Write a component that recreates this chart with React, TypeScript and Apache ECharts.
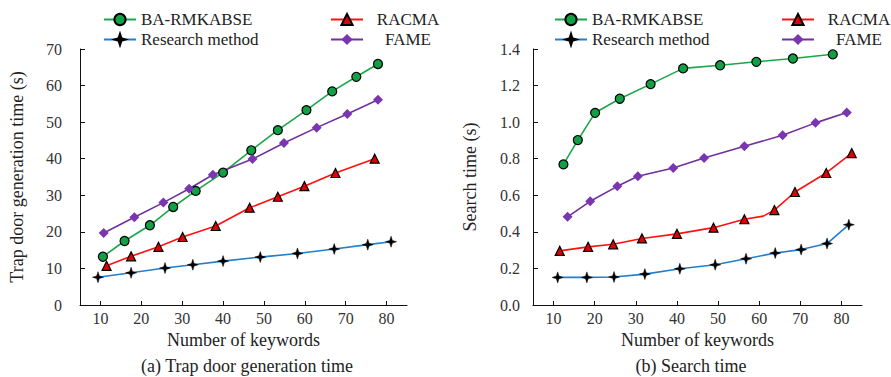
import React, { useEffect, useRef } from "react";
import * as echarts from "echarts";

// ---- data ----
const xTicks = [10, 20, 30, 40, 50, 60, 70, 80];

// (a) Trap door generation time
const greenLX = [10.6, 15.9, 22.1, 27.8, 33.3, 40.0, 46.9, 53.4, 60.4, 66.7, 72.6, 77.9];
const greenLY = [13.2, 17.5, 21.8, 26.8, 31.2, 36.2, 42.3, 47.8, 53.3, 58.4, 62.4, 65.9];
const redLX = [11.5, 17.5, 24.2, 30.1, 38.2, 46.5, 53.4, 59.9, 67.5, 77.1];
const redLY = [10.7, 13.3, 15.9, 18.6, 21.6, 26.6, 29.6, 32.5, 36.1, 40.0];
const blueLX = [9.4, 17.5, 25.8, 32.6, 40.0, 49.1, 58.2, 67.2, 75.4, 81.1];
const blueLY = [7.6, 8.8, 10.1, 11.0, 12.0, 13.1, 14.1, 15.3, 16.5, 17.3];
const purpleLX = [10.8, 18.3, 25.4, 31.7, 37.5, 47.2, 54.9, 62.9, 70.4, 77.9];
const purpleLY = [19.7, 24.0, 28.0, 31.8, 35.6, 39.9, 44.3, 48.5, 52.2, 56.1];

// (b) Search time
const greenRX = [12.4, 15.9, 20.1, 26.1, 33.6, 41.5, 50.5, 59.3, 68.2, 77.9];
const greenRY = [0.769, 0.902, 1.051, 1.128, 1.208, 1.294, 1.311, 1.33, 1.348, 1.371];
const purpleRX = [13.4, 18.9, 25.5, 30.5, 39.1, 46.6, 56.4, 65.7, 73.7, 81.3];
const purpleRY = [0.482, 0.567, 0.649, 0.704, 0.749, 0.804, 0.868, 0.928, 0.996, 1.053];
const redRX = [11.5, 18.4, 24.5, 31.5, 40.0, 48.9, 56.4, 61.0, 63.7, 68.7, 76.3, 82.5];
const redRY = [0.296, 0.318, 0.332, 0.364, 0.389, 0.423, 0.469, 0.486, 0.519, 0.618, 0.722, 0.831];
const redRUnmarked = [61.0];
const blueRX = [11.0, 18.1, 24.7, 32.2, 40.7, 49.3, 56.8, 63.9, 70.2, 76.5, 81.8];
const blueRY = [0.151, 0.151, 0.153, 0.169, 0.198, 0.22, 0.253, 0.284, 0.303, 0.336, 0.439];

const NAMES = { green: "BA-RMKABSE", red: "RACMA", blue: "Research method", purple: "FAME" };

const FONT = "Liberation Serif";
const STAR = "path://M0,-10 L2.4,-2.4 L10,0 L2.4,2.4 L0,10 L-2.4,2.4 L-10,0 L-2.4,-2.4 Z";

const STYLES: Record<string, any> = {
  green: { color: "#1aa64a", symbol: "circle", symbolSize: 9, itemStyle: { color: "#12a046", borderColor: "#000", borderWidth: 1.2 } },
  red: { color: "#ff1010", symbol: "triangle", symbolSize: 9, itemStyle: { color: "#e00000", borderColor: "#000", borderWidth: 1.2 } },
  blue: { color: "#1f7fd0", symbol: STAR, symbolSize: 11, itemStyle: { color: "#000", borderColor: "#000", borderWidth: 0.5 } },
  purple: { color: "#7030a0", symbol: "diamond", symbolSize: 10, itemStyle: { color: "#7a35b0", borderWidth: 0 } },
};

function zip(xs: number[], ys: number[], hidden: number[] = []) {
  return xs.map((x, i) =>
    hidden.includes(x) ? { value: [x, ys[i]], symbol: "none" } : { value: [x, ys[i]] }
  );
}

function series(key: string, xs: number[], ys: number[], idx: number, hidden: number[] = []) {
  const s = STYLES[key];
  return {
    type: "line",
    name: NAMES[key as keyof typeof NAMES],
    xAxisIndex: idx,
    yAxisIndex: idx,
    data: zip(xs, ys, hidden),
    symbol: s.symbol,
    symbolSize: s.symbolSize,
    showAllSymbol: true,
    lineStyle: { color: s.color, width: 1.6 },
    itemStyle: s.itemStyle,
    color: s.color,
    z: key === "blue" ? 3 : 2,
  };
}

function xAxis(idx: number) {
  return {
    type: "value",
    gridIndex: idx,
    min: 5,
    max: 85,
    name: "Number of keywords",
    nameLocation: "middle",
    nameGap: 26,
    nameTextStyle: { fontFamily: FONT, fontSize: 18, color: "#222" },
    axisLine: { show: true, lineStyle: { color: "#111", width: 1 } },
    axisTick: { show: true, inside: true, length: 4, customValues: xTicks, lineStyle: { color: "#111" } },
    axisLabel: { customValues: xTicks, fontFamily: FONT, fontSize: 16, color: "#333", margin: 5 },
    splitLine: { show: false },
  };
}

function yAxis(idx: number, max: number, interval: number, name: string, margin: number, dec: number) {
  return {
    type: "value",
    gridIndex: idx,
    min: 0,
    max,
    interval,
    name,
    nameLocation: "middle",
    nameGap: 54,
    nameTextStyle: { fontFamily: FONT, fontSize: 18, color: "#222" },
    axisLine: { show: true, lineStyle: { color: "#111", width: 1 } },
    axisTick: { show: true, inside: true, length: 5, lineStyle: { color: "#111" } },
    axisLabel: {
      fontFamily: FONT,
      fontSize: 16,
      color: "#333",
      margin,
      formatter: (v: number) => v.toFixed(dec),
    },
    splitLine: { show: false },
  };
}

function legend(left: number, data: string[], centered: boolean) {
  const base: any = {
    orient: "vertical",
    left,
    top: 6,
    itemWidth: 32,
    itemHeight: 14,
    itemGap: 3,
    data,
    textStyle: { fontFamily: FONT, fontSize: 17, color: "#222", lineHeight: 17 },
  };
  if (centered) {
    base.formatter = (n: string) => `{c|${n}}`;
    base.textStyle = {
      ...base.textStyle,
      rich: { c: { width: 80, align: "center", fontFamily: FONT, fontSize: 17, color: "#222", lineHeight: 17 } },
    };
  }
  return base;
}

export default function App() {
  const ref = useRef<HTMLDivElement>(null);
  useEffect(() => {
    if (!ref.current) return;
    const chart = echarts.init(ref.current, null, { renderer: "svg" });
    chart.setOption({
      animation: false,
      backgroundColor: "#fff",
      textStyle: { fontFamily: FONT },
      grid: [
        { left: 80, top: 49, width: 327, height: 256 },
        { left: 533, top: 49, width: 329, height: 256 },
      ],
      xAxis: [xAxis(0), xAxis(1)],
      yAxis: [
        yAxis(0, 70, 10, "Trap door generation time (s)", 18, 0),
        yAxis(1, 1.4, 0.2, "Search time (s)", 13, 1),
      ],
      legend: [
        legend(98, [NAMES.green, NAMES.blue], false),
        legend(325, [NAMES.red, NAMES.purple], true),
        legend(549, [NAMES.green, NAMES.blue], false),
        legend(776, [NAMES.red, NAMES.purple], true),
      ],
      graphic: [
        {
          type: "text",
          x: 247,
          y: 366,
          style: { text: "(a) Trap door generation time", fontFamily: FONT, fontSize: 18, fill: "#222", textAlign: "center", textVerticalAlign: "middle" },
        },
        {
          type: "text",
          x: 691,
          y: 366,
          style: { text: "(b) Search time", fontFamily: FONT, fontSize: 18, fill: "#222", textAlign: "center", textVerticalAlign: "middle" },
        },
      ],
      series: [
        series("green", greenLX, greenLY, 0),
        series("red", redLX, redLY, 0),
        series("blue", blueLX, blueLY, 0),
        series("purple", purpleLX, purpleLY, 0),
        series("green", greenRX, greenRY, 1),
        series("red", redRX, redRY, 1, redRUnmarked),
        series("blue", blueRX, blueRY, 1),
        series("purple", purpleRX, purpleRY, 1),
      ],
    });
    return () => chart.dispose();
  }, []);
  return (
    <div
      ref={ref}
      style={{ position: "fixed", left: 0, top: 0, width: 891, height: 377, background: "#fff" }}
    />
  );
}
